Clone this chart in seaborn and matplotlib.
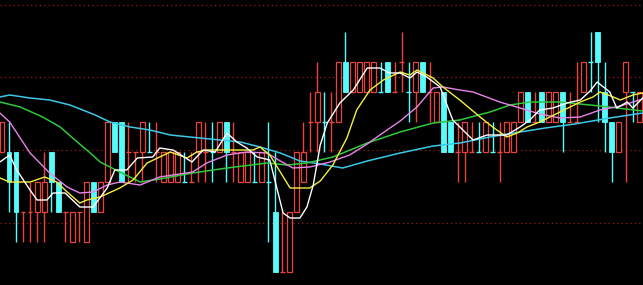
import matplotlib
matplotlib.use("Agg")
import matplotlib.pyplot as plt
import seaborn as sns
import pandas as pd
import numpy as np

# ---- candle data (price units) ----
opens = [2920,2920,2920,2860,2860,2860,2860,2920,2890,2860, 2830,2860,2830,2890,2860,2890,2950,2950,2920,2920,
         2920,2920,2920,2890,2890,2890,2890,2890,2920,2920, 2920,2920,2950,2920,2890,2890,2890,2890,2890,2860,
         2800,2800,2860,2890,2950,2950,2950,2950,2950,3010, 2980,2980,2980,2980,2980,3010,2980,3010,2980,2980,
         3010,2980,2950,2980,2950,2920,2920,2920,2920,2920, 2920,2920,2920,2920,2950,2980,2950,2980,2950,2950,
         2980,2950,2950,2980,3010,3040,2980,2950,2920,2980, 2980,2950]
closes = [2950,2890,2860,2860,2860,2890,2890,2890,2860,2860, 2860,2860,2890,2860,2890,2950,2920,2890,2920,2920,
          2950,2920,2920,2920,2920,2920,2890,2890,2950,2920, 2920,2950,2920,2920,2920,2920,2890,2920,2890,2800,
          2800,2860,2920,2920,2950,2980,2950,2950,3010,2980, 3010,3010,3010,3010,2980,2980,2980,3010,2980,3010,
          2980,2980,2980,2920,2920,2920,2950,2920,2920,2950, 2920,2920,2950,2950,2980,2950,2950,2950,2980,2980,
          2950,2950,2950,3010,3010,3010,2950,2920,2950,3010, 2980,2980]
highs = [2950,2950,2920,2860,2890,2890,2920,2920,2890,2860, 2860,2860,2890,2890,2890,2950,2950,2950,2950,2920,
         2950,2950,2950,2920,2920,2920,2920,2920,2950,2950, 2950,2950,2950,2950,2920,2920,2920,2920,2950,2920,
         2860,2860,2920,2950,2980,3010,2980,2980,3010,3040, 3010,3010,3010,3010,3010,3010,3010,3040,3010,3010,
         3010,3010,2980,2980,2950,2950,2950,2950,2950,2950, 2950,2950,2950,2950,2980,2980,2980,2980,2980,2980,
         2980,2980,3010,3010,3040,3040,3010,2950,2950,3010, 2980,2980]
lows = [2920,2860,2830,2830,2830,2830,2830,2860,2860,2830, 2830,2830,2830,2860,2860,2890,2920,2890,2890,2890,
        2890,2920,2890,2890,2890,2890,2890,2890,2890,2890, 2890,2920,2890,2890,2890,2890,2890,2890,2830,2800,
        2800,2800,2860,2890,2920,2920,2920,2920,2950,2980, 2980,2980,2980,2980,2980,2980,2980,2980,2950,2950,
        2980,2950,2950,2920,2920,2890,2890,2920,2920,2920, 2920,2890,2920,2920,2950,2950,2950,2950,2950,2950,
        2920,2950,2950,2980,2980,2950,2920,2890,2920,2890, 2950,2950]
down_doji = [21, 26, 30, 36, 38, 46, 54, 58, 68, 70, 84, 90]

# ---- moving averages (bar index, price) ----
ma5_x = [-0.3,1.1,2.1,4.0,5.0,6.4,7.3,9.0,11.1,13.0,15.0,16.1,17.8,19.3,21.5,22.5,24.4,27.1,28.7,30.4,32.1,33.5,
         34.9,36.4,38.2,40.1,41.1,42.5,43.5,44.4,45.4,46.4,48.2,50.1,52.1,53.9,55.3,56.8,58.2,59.2,60.6,62.5,64.3,
         67.2,69.2,72.0,73.9,75.3,76.7,78.6,80.6,82.5,83.9,84.9,86.7,87.7,89.2,90.0,91.4]
ma5_y = [2910,2917,2902,2882,2872,2872,2879,2879,2865,2865,2884,2902,2902,2914,2915,2924,2922,2910,2922,2920,2939,2930,
         2924,2915,2912,2859,2854,2854,2865,2887,2927,2949,2969,2982,3004,3004,2999,2999,2994,3000,2995,2985,2952,
         2932,2937,2937,2945,2952,2962,2964,2969,2972,2981,2990,2980,2964,2970,2964,2974]
ma10_x = [-0.3,1.1,4.0,6.1,7.8,9.3,11.1,12.1,14.0,16.8,18.7,20.7,22.5,24.0,26.4,27.8,29.2,35.8,36.8,38.2,39.7,41.1,
          43.9,45.4,47.2,49.2,50.6,52.5,54.4,56.8,58.2,59.2,61.5,62.9,65.3,68.2,70.0,72.0,73.5,74.9,76.7,79.6,82.5,
          84.3,85.3,87.2,88.2,90.0,91.4]
ma10_y = [2894,2890,2890,2895,2890,2880,2869,2872,2875,2884,2892,2909,2915,2920,2914,2920,2922,2922,2925,2917,2900,2884,
          2884,2891,2907,2934,2962,2982,2992,3000,2997,3002,2994,2985,2972,2955,2945,2935,2939,2945,2950,2960,2970,
          2975,2980,2975,2972,2977,2979]
ma20_x = [-0.3,1.1,4.0,6.8,9.3,11.1,13.0,15.0,16.8,19.7,22.5,27.2,29.2,32.1,34.9,37.8,39.7,41.5,43.9,46.8,49.6,52.1,
          53.9,56.8,59.2,61.5,62.9,65.3,67.2,71.0,73.9,76.7,79.6,82.5,85.3,88.2,91.4]
ma20_y = [2959,2950,2919,2899,2885,2879,2880,2887,2890,2887,2895,2900,2909,2917,2920,2919,2911,2904,2905,2910,2917,2928,
          2937,2951,2965,2984,2985,2982,2980,2970,2964,2958,2954,2955,2962,2966,2973]
ma30_x = [-0.3,2.6,5.8,8.3,10.4,12.6,14.0,16.8,19.7,22.5,27.2,32.1,37.8,40.7,43.5,47.2,52.1,56.8,61.5,65.3,69.6,72.5,
          75.3,79.6,85.3,91.4]
ma30_y = [2970,2965,2955,2945,2932,2919,2910,2900,2890,2893,2899,2904,2909,2907,2909,2915,2929,2940,2949,2952,2960,2967,
          2970,2970,2966,2961]
ma60_x = [-0.3,1.1,4.0,6.8,9.7,13.3,15.4,18.3,21.1,24.0,28.2,34.0,36.8,39.7,42.5,45.4,48.6,52.1,56.8,61.5,65.3,69.6,
          73.9,77.5,81.7,86.7,91.4]
ma60_y = [2975,2977,2974,2972,2967,2957,2950,2945,2942,2937,2934,2930,2925,2919,2911,2908,2904,2911,2919,2926,2929,2935,
          2940,2944,2948,2954,2959]

grid_levels = [3067, 2995, 2922, 2849]

# ---- style ----
sns.set_theme(style="dark")
plt.rcParams['font.family'] = ['DejaVu Sans']

RED = '#e8443c'
CYAN = '#54fcfc'

fig = plt.figure(figsize=(6.43, 2.85), dpi=100, facecolor='black')
ax = fig.add_axes([0, 0, 1, 1])
ax.set_facecolor('black')

for g in grid_levels:
    ax.axhline(g, color='#9a1c1c', lw=0.9, linestyle=(0, (1, 2.5)), zorder=1)

W = 0.7
n = len(opens)
for i in range(n):
    o, c, h, l = opens[i], closes[i], highs[i], lows[i]
    down = c < o or (c == o and i in down_doji)
    col = CYAN if down else RED
    top, bot = max(o, c), min(o, c)
    if down:
        ax.vlines(i, l, h, color=col, lw=1.0, zorder=2)
        if top > bot:
            ax.bar(i, top - bot, bottom=bot, width=W, color=col, edgecolor=col, lw=0.6, zorder=3)
        else:
            ax.hlines(o, i - W / 2, i + W / 2, color=col, lw=1.0, zorder=3)
    else:
        if top > bot:
            if h > top:
                ax.vlines(i, top, h, color=col, lw=1.0, zorder=2)
            if l < bot:
                ax.vlines(i, l, bot, color=col, lw=1.0, zorder=2)
            ax.bar(i, top - bot, bottom=bot, width=W, facecolor='black', edgecolor=col, lw=0.9, zorder=3)
        else:
            ax.vlines(i, l, h, color=col, lw=1.0, zorder=2)
            ax.hlines(o, i - W / 2, i + W / 2, color=col, lw=1.0, zorder=3)

lines = [
    (ma60_x, ma60_y, '#3cc8e6', 1.1),
    (ma30_x, ma30_y, '#2ec83a', 1.1),
    (ma20_x, ma20_y, '#e884e8', 1.0),
    (ma10_x, ma10_y, '#f4f03c', 1.0),
    (ma5_x, ma5_y, '#ffffff', 1.0),
]
for k, (xs, ys, col, lw) in enumerate(lines):
    df = pd.DataFrame({'x': xs, 'y': ys})
    sns.lineplot(data=df, x='x', y='y', color=col, lw=lw, ax=ax, sort=False, zorder=5 + k)

ax.set_xlim(-2 / 7.01, 641 / 7.01)
ax.set_ylim(3072 - 285, 3072)
ax.axis('off')
fig.savefig('out.png', dpi=100, facecolor='black')
